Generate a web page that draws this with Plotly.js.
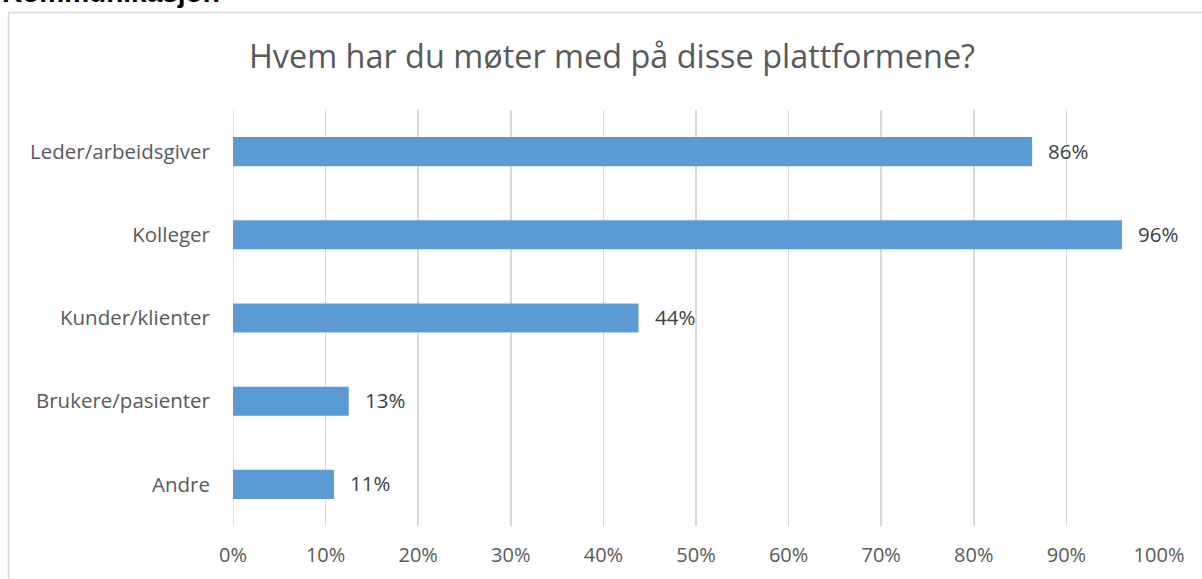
<!DOCTYPE html>
<html>
<head>
<meta charset="utf-8">
<script src="https://cdn.plot.ly/plotly-3.0.1.min.js"></script>
<style>
html,body{margin:0;padding:0;background:#fff;}
#chart{width:1202px;height:579px;}
</style>
</head>
<body>
<div id="chart"></div>
<script>
const categories = ["Leder/arbeidsgiver", "Kolleger", "Kunder/klienter", "Brukere/pasienter", "Andre"];
const values = [0.863, 0.960, 0.438, 0.125, 0.109];
const valueLabels = ["86%", "96%", "44%", "13%", "11%"];
const tickValues = [0, 0.1, 0.2, 0.3, 0.4, 0.5, 0.6, 0.7, 0.8, 0.9, 1.0];
const tickLabels = ["0%", "10%", "20%", "30%", "40%", "50%", "60%", "70%", "80%", "90%", "100%"];
const chartTitle = "Hvem har du møter med på disse plattformene?";
const sectionTitle = "Kommunikasjon";

const font = "Open Sans, Liberation Sans, sans-serif";

const L = 233, R = 43, T = 110, B = 53;
const W = 1202 - L - R, H = 579 - T - B;
const px = x => (x - L) / W;
const py = y => (579 - B - y) / H;

const trace = {
  type: "bar",
  orientation: "h",
  y: categories,
  x: values,
  marker: {color: "#5B9BD5", line: {width: 0}},
  width: 0.35,
  hoverinfo: "none"
};

const labelAnnotations = values.map((v, i) => ({
  x: v, y: categories[i], xref: "x", yref: "y",
  text: valueLabels[i], showarrow: false,
  xanchor: "left", yanchor: "middle", xshift: 14, yshift: 1,
  font: {family: font, size: 20.5, color: "#404040"}
}));

const layout = {
  width: 1202, height: 579,
  margin: {l: L, r: R, t: T, b: B, pad: 0},
  paper_bgcolor: "#fff",
  plot_bgcolor: "#fff",
  showlegend: false,
  title: {
    text: chartTitle,
    font: {family: font, size: 32.4, color: "#595959"},
    x: 612/1202, xanchor: "center", xref: "container",
    y: 1 - 57/579, yanchor: "middle", yref: "container"
  },
  xaxis: {
    range: [0, 1.0],
    tickvals: tickValues,
    ticktext: tickLabels,
    showgrid: true,
    gridcolor: "#d9d9d9",
    gridwidth: 1.5,
    zeroline: false,
    showline: false,
    ticks: "",
    tickfont: {family: font, size: 20, color: "#595959"},
    ticklabelstandoff: 15,
    fixedrange: true
  },
  yaxis: {
    autorange: "reversed",
    type: "category",
    showgrid: false,
    zeroline: false,
    showline: false,
    ticks: "",
    ticklabelstandoff: 22,
    tickfont: {family: font, size: 20.5, color: "#595959"},
    fixedrange: true
  },
  shapes: [
    {type: "rect", xref: "paper", yref: "paper",
     x0: px(8.5), x1: px(1220), y0: py(620), y1: py(12.5),
     line: {color: "#d9d9d9", width: 1.5}, fillcolor: "rgba(0,0,0,0)", layer: "below"},
    {type: "line", xref: "x", yref: "paper", x0: 0, x1: 0, y0: 0, y1: 1,
     line: {color: "#d9d9d9", width: 1.5}, layer: "below"}
  ],
  annotations: [
    {text: "<b>" + sectionTitle + "</b>", xref: "paper", yref: "paper",
     x: px(0), y: py(10), xanchor: "left", yanchor: "bottom",
     showarrow: false, font: {family: "Liberation Sans, Arial, sans-serif", size: 28, color: "#000"}}
  ].concat(labelAnnotations)
};

Plotly.newPlot("chart", [trace], layout, {displayModeBar: false, staticPlot: true});
</script>
</body>
</html>
